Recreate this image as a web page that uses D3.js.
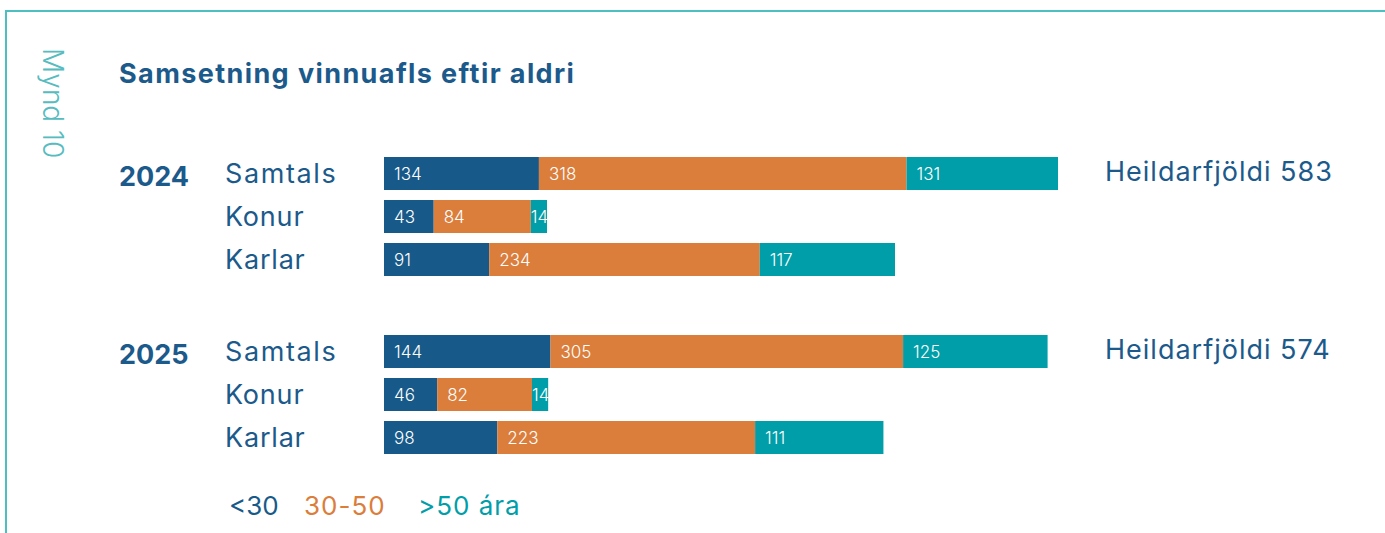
<!DOCTYPE html>
<html>
<head>
<meta charset='utf-8'>
<style>
body {
  margin: 0;
  background: #fff;
}
svg {
  display: block;
  font-family: Inter, 'Open Sans', sans-serif;
}
.barlabel {
  fill: #fff;
  font-size: 17px;
  font-weight: 300;
}
</style>
</head>
<body>
<svg width="1385" height="533"></svg>
<script src="https://d3js.org/d3.v7.min.js"></script>
<script>

// data
var years = ['2024', '2025'];
var groups = ['Samtals', 'Konur', 'Karlar'];
var ageGroups = ['<30', '30-50', '>50 ára'];
var values2024 = [[134, 318, 131], [43, 84, 14], [91, 234, 117]];
var values2025 = [[144, 305, 125], [46, 82, 14], [98, 223, 111]];
var totals = [583, 574];
var totalLabel = 'Heildarfjöldi';

var colors = ['#175a89', '#db7d3b', '#009ea8'];
var textBlue = '#1b5a8b';

var svg = d3.select('svg');

// frame (top + left line)
svg.append('path')
  .attr('d', 'M6,533 V11 H1385')
  .attr('fill', 'none')
  .attr('stroke', '#4dbfc1')
  .attr('stroke-width', 2);

svg.append('text')
  .attr('transform', 'translate(43,48) rotate(90)')
  .attr('fill', '#56bcc0')
  .attr('font-size', 28)
  .attr('font-weight', 300)
  .text('Mynd 10');

svg.append('text')
  .attr('x', 119).attr('y', 83)
  .attr('fill', textBlue)
  .attr('font-size', 27)
  .attr('font-weight', 700)
  .attr('letter-spacing', 1.4)
  .text('Samsetning vinnuafls eftir aldri');

var x = d3.scaleLinear().domain([0, 583]).range([384, 1058]);
var yYear = d3.scaleBand().domain(years).range([157, 157 + 178 * 2]);
var yRow = d3.scaleBand().domain(groups).range([0, 119]).paddingInner(10 / 43);

var data = [values2024, values2025];

years.forEach(function(year, yi) {
  var g = svg.append('g').attr('transform', 'translate(0,' + yYear(year) + ')');
  var mid = yRow('Samtals') + yRow.bandwidth() / 2;

  g.append('text')
    .attr('x', 119).attr('y', mid + 12.5)
    .attr('fill', textBlue)
    .attr('font-size', 27)
    .attr('font-weight', 700)
    .text(year);

  g.append('text')
    .attr('x', 1105).attr('y', mid + 7)
    .attr('fill', textBlue)
    .attr('font-size', 27)
    .attr('letter-spacing', 1)
    .text(totalLabel + ' ' + totals[yi]);

  var rows = g.selectAll('.row')
    .data(groups)
    .enter().append('g')
      .attr('class', 'row')
      .attr('transform', function(d) { return 'translate(0,' + yRow(d) + ')'; });

  rows.append('text')
    .attr('x', 225)
    .attr('y', yRow.bandwidth() / 2 + 9.5)
    .attr('fill', textBlue)
    .attr('font-size', 27)
    .attr('letter-spacing', function(d) { return d == 'Samtals' ? 1.6 : 0.8; })
    .text(function(d) { return d; });

  rows.each(function(grp, gi) {
    var vals = data[yi][gi];
    var segs = d3.stack().keys([0, 1, 2])([vals])
      .map(function(s, i) { return {x0: s[0][0], x1: s[0][1], v: vals[i], i: i}; });
    var r = d3.select(this);
    r.selectAll('rect')
      .data(segs)
      .enter().append('rect')
        .attr('x', function(d) { return x(d.x0); })
        .attr('width', function(d) { return x(d.x1) - x(d.x0); })
        .attr('height', yRow.bandwidth())
        .attr('fill', function(d) { return colors[d.i]; });
    r.selectAll('.barlabel')
      .data(segs)
      .enter().append('text')
        .attr('class', 'barlabel')
        .attr('x', function(d) {
          var w = x(d.x1) - x(d.x0);
          return x(d.x0) + (w < 30 ? 0 : 10);
        })
        .attr('y', yRow.bandwidth() / 2 + 6)
        .text(function(d) { return d.v; });
  });
});

// legend
var legendX = [229, 304, 418];
svg.selectAll('.legend')
  .data(ageGroups)
  .enter().append('text')
    .attr('class', 'legend')
    .attr('x', function(d, i) { return legendX[i]; })
    .attr('y', 515)
    .attr('fill', function(d, i) { return colors[i]; })
    .attr('font-size', 26)
    .attr('letter-spacing', function(d, i) { return i == 0 ? 0 : 1; })
    .text(function(d) { return d; });

</script>
</body>
</html>
